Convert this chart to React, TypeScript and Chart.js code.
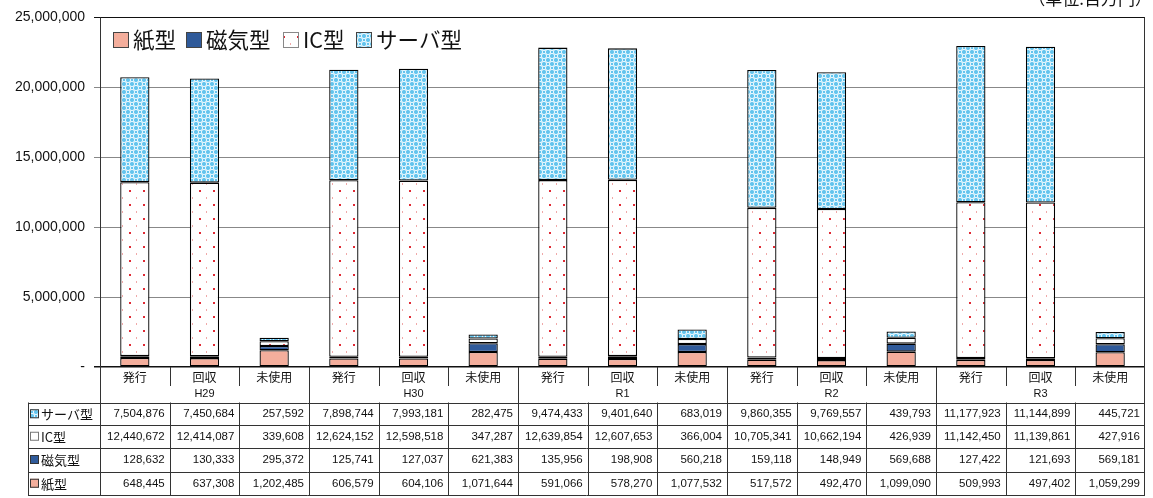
import React, { useEffect, useRef } from "react";
import { Chart, registerables } from "chart.js";

Chart.register(...registerables);

const groups = ["H29", "H30", "R1", "R2", "R3"];
const subCats = ["発行", "回収", "未使用"];
const categories = groups.flatMap((g) => subCats.map((s) => `${g} ${s}`));

const seriesNames = ["紙型", "磁気型", "IC型", "サーバ型"];
const paper = [648445, 637308, 1202485, 606579, 604106, 1071644, 591066, 578270, 1077532, 517572, 492470, 1099090, 509993, 497402, 1059299];
const magnetic = [128632, 130333, 295372, 125741, 127037, 621383, 135956, 198908, 560218, 159118, 148949, 569688, 127422, 121693, 569181];
const ic = [12440672, 12414087, 339608, 12624152, 12598518, 347287, 12639854, 12607653, 366004, 10705341, 10662194, 426939, 11142450, 11139861, 427916];
const server = [7504876, 7450684, 257592, 7898744, 7993181, 282475, 9474433, 9401640, 683019, 9860355, 9769557, 439793, 11177923, 11144899, 445721];

const yTicks = [0, 5000000, 10000000, 15000000, 20000000, 25000000];
const unitLabel = "（単位:百万円）";

const JP = '"Noto Sans CJK JP", "Noto Sans", sans-serif';
const NUM = '"Liberation Sans", Arial, sans-serif';

function makePattern(kind: string): CanvasPattern | string {
  const c = document.createElement("canvas");
  if (kind === "ic") {
    c.width = 14; c.height = 14;
    const g = c.getContext("2d")!;
    g.fillStyle = "#ffffff"; g.fillRect(0, 0, 14, 14);
    g.fillStyle = "#e02a34"; g.fillRect(3, 8, 2, 2);
    g.fillStyle = "#f0a8a8"; g.fillRect(10, 1, 1, 2);
  } else {
    c.width = 8; c.height = 8;
    const g = c.getContext("2d")!;
    g.fillStyle = "#63c4ee"; g.fillRect(0, 0, 8, 8);
    g.strokeStyle = "#eefaff"; g.lineWidth = 1;
    const pts = [[0, 0], [8, 0], [0, 8], [8, 8], [4, 4]];
    for (const [x, y] of pts) { g.beginPath(); g.arc(x, y, 2.6, 0, Math.PI * 2); g.stroke(); }
  }
  return c.getContext("2d")!.createPattern(c, "repeat")!;
}

const fmt = (v: number) => v.toLocaleString("en-US");

export default function App() {
  const ref = useRef<HTMLCanvasElement>(null);
  useEffect(() => {
    document.body.style.margin = "0";
    const icPat = makePattern("ic");
    const svPat = makePattern("server");
    const colors: any[] = ["#f4ae9c", "#2f5a9a", icPat, svPat];
    const values = [paper, magnetic, ic, server];

    const tablePlugin = {
      id: "tablePlugin",
      afterDraw(chart: any) {
        const ctx = chart.ctx as CanvasRenderingContext2D;
        const ca = chart.chartArea;
        const xs = chart.scales.x;
        const n = categories.length;
        const colW = (ca.right - ca.left) / n;
        const top = ca.bottom;
        const hdrMid = 386;
        const rowLines = [402.5, 425, 447.5, 471.5, 495];
        const labelLeft = 28;
        ctx.save();
        // legend
        const legX = [113, 186, 283, 356];
        ctx.font = `21.5px ${JP}`;
        ctx.textBaseline = "middle";
        seriesNames.forEach((name, i) => {
          const bx = legX[i], by = 32;
          ctx.fillStyle = colors[i];
          ctx.fillRect(bx, by, 16, 16);
          ctx.strokeStyle = i === 2 ? "#888" : "#444";
          ctx.lineWidth = 1;
          ctx.strokeRect(bx + 0.5, by + 0.5, 15, 15);
          ctx.fillStyle = "#111";
          ctx.textAlign = "left";
          ctx.fillText(name, bx + 20, by + 8);
        });
        // unit label
        ctx.font = `17px ${JP}`;
        ctx.textAlign = "right";
        ctx.textBaseline = "alphabetic";
        ctx.fillStyle = "#111";
        ctx.fillText(unitLabel, 1152, 5);
        // borders
        ctx.strokeStyle = "#333";
        ctx.lineWidth = 1;
        ctx.beginPath();
        ctx.moveTo(ca.left + 0.5, ca.top); ctx.lineTo(ca.left + 0.5, rowLines[4]);
        ctx.moveTo(ca.right - 0.5, ca.top); ctx.lineTo(ca.right - 0.5, rowLines[4]);
        ctx.moveTo(labelLeft + 0.5, rowLines[0]); ctx.lineTo(labelLeft + 0.5, rowLines[4]);
        for (const y of rowLines) { ctx.moveTo(labelLeft, Math.round(y) + 0.5); ctx.lineTo(ca.right, Math.round(y) + 0.5); }
        for (let i = 1; i < n; i++) {
          const x = Math.round(ca.left + i * colW) + 0.5;
          if (i % 3 === 0) { ctx.moveTo(x, top); ctx.lineTo(x, rowLines[4]); }
          else { ctx.moveTo(x, top); ctx.lineTo(x, hdrMid); ctx.moveTo(x, rowLines[0]); ctx.lineTo(x, rowLines[4]); }
        }
        ctx.stroke();
        // header texts
        ctx.fillStyle = "#111";
        ctx.textAlign = "center";
        ctx.textBaseline = "middle";
        ctx.font = `12px ${JP}`;
        categories.forEach((_, i) => {
          ctx.fillText(subCats[i % 3], xs.getPixelForValue(i), 377);
        });
        ctx.font = `11px ${NUM}`;
        groups.forEach((g, gi) => {
          ctx.fillText(g, xs.getPixelForValue(gi * 3 + 1), 394);
        });
        // rows
        const rowOrder = [3, 2, 1, 0];
        rowOrder.forEach((si, r) => {
          const yc = (rowLines[r] + rowLines[r + 1]) / 2 + 0.5;
          ctx.fillStyle = colors[si];
          ctx.fillRect(30, yc - 5, 9, 9);
          ctx.strokeStyle = si === 2 ? "#777" : "#333";
          ctx.strokeRect(30.5, yc - 4.5, 8, 8);
          ctx.fillStyle = "#111";
          ctx.textAlign = "left";
          ctx.font = `13px ${JP}`;
          ctx.fillText(seriesNames[si], 41, yc);
          ctx.textAlign = "right";
          ctx.font = `11.5px ${NUM}`;
          values[si].forEach((v, i) => {
            const xr = ca.left + (i + 1) * colW - 5;
            ctx.fillText(fmt(v), xr, yc);
          });
        });
        ctx.restore();
      },
    };

    const chart = new Chart(ref.current!, {
      type: "bar",
      data: {
        labels: categories,
        datasets: seriesNames.map((name, i) => ({
          label: name,
          data: values[i],
          backgroundColor: colors[i],
          borderColor: "#000",
          borderWidth: 1.3,
          borderSkipped: false,
          barPercentage: 0.42,
          categoryPercentage: 1,
        })),
      },
      options: {
        responsive: false,
        animation: false,
        devicePixelRatio: 1,
        layout: { padding: { top: 17, right: 8, bottom: 131, left: 0 } },
        plugins: { legend: { display: false }, tooltip: { enabled: false }, title: { display: false } },
        scales: {
          x: { stacked: true, display: false },
          y: {
            stacked: true,
            min: 0,
            max: 25000000,
            afterFit: (s: any) => { s.width = 100; },
            afterBuildTicks: (s: any) => { s.ticks = yTicks.map((v) => ({ value: v })); },
            ticks: {
              padding: 9,
              color: "#111",
              font: { family: NUM, size: 14 },
              callback: (v: any) => (v === 0 ? "-" : fmt(Number(v))),
            },
            grid: {
              tickLength: 6,
              color: (c: any) => (c.tick && (c.tick.value === 0 || c.tick.value === 25000000) ? "#111" : "#888"),
              lineWidth: (c: any) => (c.tick && c.tick.value === 0 ? 1.5 : 1),
            },
            border: { color: "#111" },
          },
        },
      },
      plugins: [tablePlugin],
    });
    return () => chart.destroy();
  }, []);
  return (
    <div style={{ position: "fixed", left: 0, top: 0, width: 1153, height: 498, background: "#fff" }}>
      <canvas ref={ref} width={1153} height={498} style={{ width: 1153, height: 498 }} />
    </div>
  );
}
